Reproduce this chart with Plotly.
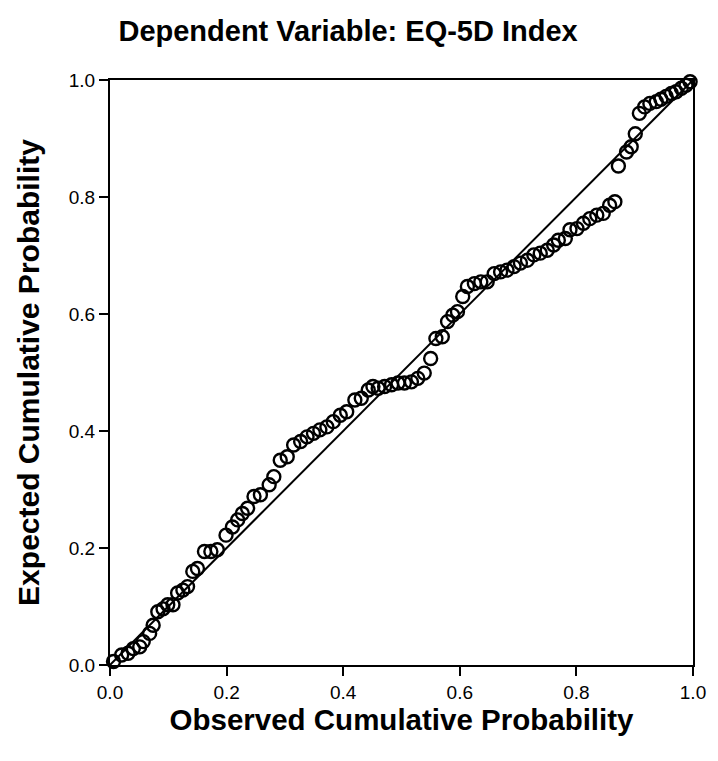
import plotly.graph_objects as go

observed = [0.006, 0.020, 0.031, 0.040, 0.051, 0.057, 0.068, 0.074, 0.082, 0.091,
            0.099, 0.108, 0.116, 0.125, 0.133, 0.142, 0.150, 0.162, 0.173, 0.184,
            0.199, 0.210, 0.219, 0.227, 0.236, 0.247, 0.258, 0.273, 0.281, 0.292,
            0.304, 0.315, 0.327, 0.338, 0.349, 0.360, 0.372, 0.383, 0.395, 0.406,
            0.420, 0.431, 0.443, 0.451, 0.460, 0.471, 0.483, 0.494, 0.505, 0.517,
            0.528, 0.539, 0.550, 0.559, 0.570, 0.579, 0.588, 0.596, 0.605, 0.613,
            0.625, 0.636, 0.647, 0.659, 0.670, 0.681, 0.693, 0.704, 0.716, 0.727,
            0.738, 0.750, 0.761, 0.769, 0.781, 0.789, 0.801, 0.812, 0.823, 0.835,
            0.846, 0.857, 0.866, 0.872, 0.886, 0.894, 0.901, 0.908, 0.917, 0.926,
            0.937, 0.945, 0.954, 0.963, 0.971, 0.980, 0.988, 0.995]
expected = [0.006, 0.017, 0.020, 0.028, 0.031, 0.040, 0.054, 0.068, 0.091, 0.096,
            0.103, 0.103, 0.123, 0.128, 0.134, 0.160, 0.165, 0.194, 0.194, 0.197,
            0.222, 0.236, 0.248, 0.259, 0.268, 0.288, 0.291, 0.308, 0.322, 0.350,
            0.356, 0.376, 0.382, 0.390, 0.396, 0.402, 0.407, 0.416, 0.427, 0.433,
            0.453, 0.456, 0.470, 0.476, 0.473, 0.476, 0.479, 0.482, 0.482, 0.484,
            0.490, 0.499, 0.524, 0.558, 0.561, 0.587, 0.598, 0.604, 0.630, 0.647,
            0.652, 0.655, 0.655, 0.669, 0.672, 0.675, 0.681, 0.687, 0.692, 0.701,
            0.704, 0.709, 0.718, 0.726, 0.729, 0.744, 0.746, 0.755, 0.763, 0.769,
            0.772, 0.786, 0.792, 0.853, 0.877, 0.886, 0.908, 0.943, 0.954, 0.960,
            0.963, 0.967, 0.972, 0.977, 0.980, 0.986, 0.991, 0.997]

ref_line = [0.0, 1.0]
tick_vals = [0.0, 0.2, 0.4, 0.6, 0.8, 1.0]
tick_text = ["0.0", "0.2", "0.4", "0.6", "0.8", "1.0"]

title_text = "Dependent Variable: EQ-5D Index"
x_title = "Observed Cumulative Probability"
y_title = "Expected Cumulative Probability"

FONT = "Liberation Sans, Arial, sans-serif"

fig = go.Figure()
fig.add_trace(go.Scatter(x=ref_line, y=ref_line, mode="lines",
                         line=dict(color="black", width=2), hoverinfo="skip",
                         showlegend=False, cliponaxis=False))
fig.add_trace(go.Scatter(x=observed, y=expected, mode="markers",
                         marker=dict(symbol="circle-open", size=13, color="black",
                                     line=dict(color="black", width=2.4)),
                         showlegend=False, cliponaxis=False))

axis_common = dict(range=[0, 1], tickvals=tick_vals, ticktext=tick_text,
                   showgrid=False, zeroline=False, showline=True,
                   linecolor="black", linewidth=2, mirror=True,
                   ticks="outside", ticklen=9, tickwidth=2, tickcolor="black",
                   tickfont=dict(family=FONT, size=19, color="black"))

# page body has an 8px default margin, so the figure is 8px smaller
fig.update_layout(
    width=710, height=753,
    margin=dict(l=102, r=21, t=72, b=96),
    paper_bgcolor="white", plot_bgcolor="white",
    title=dict(text=f"<b>{title_text}</b>", x=0.479, xanchor="center",
               y=0.9695, yanchor="middle",
               font=dict(family=FONT, size=29, color="black")),
    xaxis=dict(**axis_common,
               title=dict(text=f"<b>{x_title}</b>", standoff=8,
                          font=dict(family=FONT, size=29.5, color="black"))),
    yaxis=dict(**axis_common,
               title=dict(text=f"<b>{y_title}</b>", standoff=20,
                          font=dict(family=FONT, size=30, color="black"))),
)

fig.write_html("out.html")
